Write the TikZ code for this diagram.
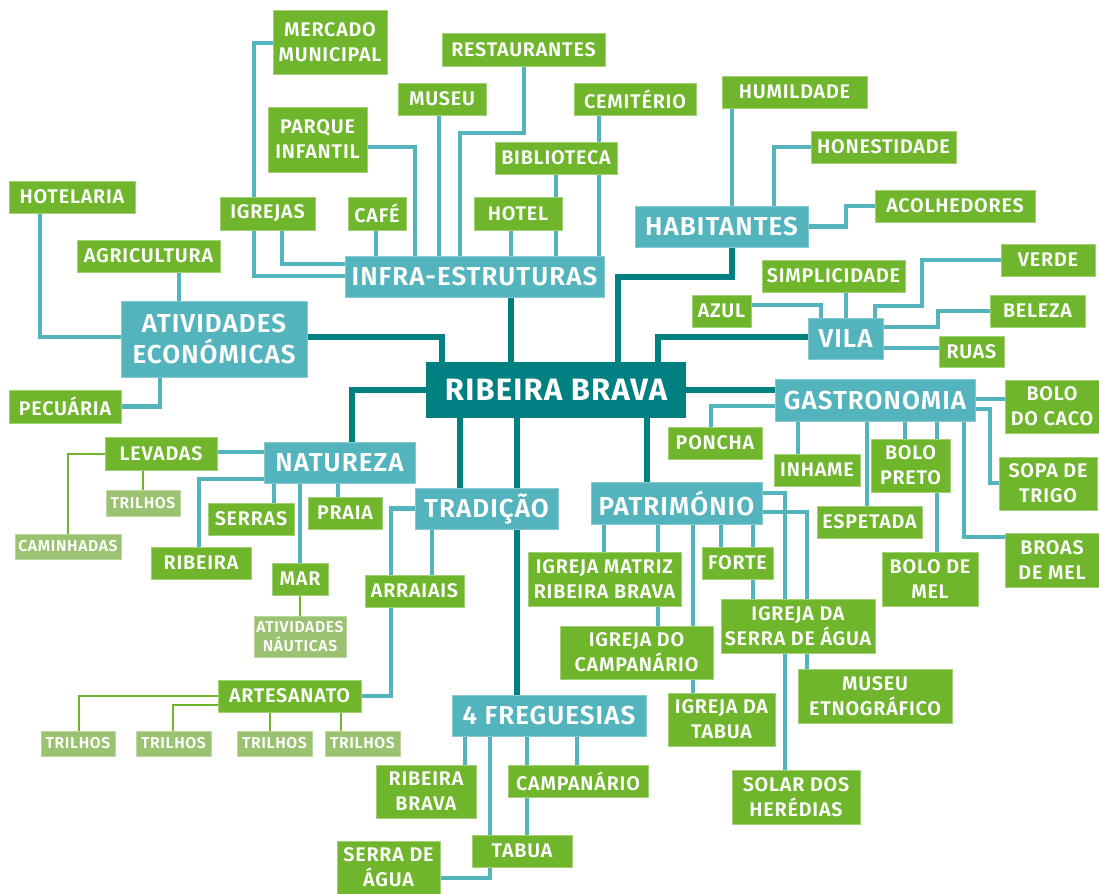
\documentclass[tikz,border=0pt]{standalone}
\usepackage{fontspec}
\setmainfont{Fira Sans}[UprightFont=* SemiBold, BoldFont=* Bold, LetterSpace=4]
\usetikzlibrary{calc}
\definecolor{dk}{HTML}{008080}
\definecolor{lt}{HTML}{54B4BD}
\definecolor{gr}{HTML}{70B62C}
\definecolor{pl}{HTML}{9BC270}
\pgfdeclarelayer{bg}
\pgfsetlayers{bg,main}
\newcommand\bx[7]{\node[#1, minimum width={(#5-#3)*0.75pt}, minimum height={(#6-#4)*0.75pt}] (#2) at ({(#3+#5)/2},{(#4+#6)/2}) {#7};}
\tikzset{
 base/.style={rectangle, inner sep=0pt, text=white, align=center},
 rootn/.style={base, fill=dk, font=\bfseries\fontsize{23.2}{27}\selectfont},
 cat/.style={base, fill=lt, draw=lt!70!white, line width=0.6pt, font=\fontsize{19.5}{23.8}\selectfont},
 grn/.style={base, fill=gr, draw=gr!65!white, line width=0.6pt, font=\fontsize{14.8}{18.75}\selectfont},
 pal/.style={base, fill=pl, draw=pl!65!white, line width=0.6pt, font=\fontsize{11.8}{14}\selectfont},
 dkl/.style={draw=dk, line width=5pt},
 ltl/.style={draw=lt, line width=3.5pt},
 gnl/.style={draw=gr, line width=2.2pt},
}
\begin{document}
\begin{tikzpicture}[x=0.75pt,y=-0.75pt]
\useasboundingbox (0,0) rectangle (1099,893);
% root and categories
\bx{rootn}{root}{426}{362}{686}{418}{RIBEIRA BRAVA}
\bx{cat}{infra}{345}{256}{604}{297}{INFRA-ESTRUTURAS}
\bx{cat}{hab}{635}{206}{808}{247}{HABITANTES}
\bx{cat}{ativ}{121}{301}{307}{377}{ATIVIDADES\\ECONÓMICAS}
\bx{cat}{vila}{808}{318}{883}{359}{VILA}
\bx{cat}{gastro}{775}{379}{975}{421}{GASTRONOMIA}
\bx{cat}{natur}{264}{442}{415}{483}{NATUREZA}
\bx{cat}{trad}{415}{488}{558}{529}{TRADIÇÃO}
\bx{cat}{patr}{591}{482}{762}{524}{PATRIMÓNIO}
\bx{cat}{freg}{452}{695}{646}{736}{4 FREGUESIAS}
% infra-estruturas
\bx{grn}{mercado}{273}{10}{387}{74}{MERCADO\\MUNICIPAL}
\bx{grn}{parque}{268}{107}{367}{172}{PARQUE\\INFANTIL}
\bx{grn}{igrejas}{220}{197}{315}{230}{IGREJAS}
\bx{grn}{cafe}{348}{197}{406}{230}{CAFÉ}
\bx{grn}{rest}{442}{33}{605}{66}{RESTAURANTES}
\bx{grn}{museu}{398}{83}{486}{115}{MUSEU}
\bx{grn}{cemit}{574}{83}{696}{115}{CEMITÉRIO}
\bx{grn}{biblio}{495}{142}{617}{174}{BIBLIOTECA}
\bx{grn}{hotel}{474}{197}{562}{230}{HOTEL}
% habitantes
\bx{grn}{humild}{722}{76}{867}{108}{HUMILDADE}
\bx{grn}{honest}{811}{131}{956}{163}{HONESTIDADE}
\bx{grn}{acolh}{875}{190}{1035}{222}{ACOLHEDORES}
% vila
\bx{grn}{verde}{1001}{244}{1095}{276}{VERDE}
\bx{grn}{simpl}{762}{260}{905}{292}{SIMPLICIDADE}
\bx{grn}{azul}{692}{295}{751}{327}{AZUL}
\bx{grn}{beleza}{990}{295}{1085}{327}{BELEZA}
\bx{grn}{ruas}{939}{336}{1004}{367}{RUAS}
% atividades
\bx{grn}{hotelaria}{9}{181}{135}{213}{HOTELARIA}
\bx{grn}{agric}{77}{240}{220}{272}{AGRICULTURA}
\bx{grn}{pecuaria}{9}{390}{121}{423}{PECUÁRIA}
% natureza
\bx{grn}{levadas}{105}{437}{217}{470}{LEVADAS}
\bx{grn}{serras}{208}{503}{294}{535}{SERRAS}
\bx{grn}{praia}{308}{497}{382}{529}{PRAIA}
\bx{grn}{ribeira}{151}{547}{251}{579}{RIBEIRA}
\bx{grn}{mar}{272}{563}{328}{595}{MAR}
\bx{pal}{trilhosL}{106}{490}{180}{516}{TRILHOS}
\bx{pal}{caminh}{15}{534}{121}{559}{CAMINHADAS}
\bx{pal}{nauticas}{254}{616}{346}{657}{ATIVIDADES\\NÁUTICAS}
% tradicao
\bx{grn}{arraiais}{365}{575}{464}{607}{ARRAIAIS}
\bx{grn}{artes}{218}{680}{361}{712}{ARTESANATO}
\bx{pal}{tA}{41}{731}{115}{756}{TRILHOS}
\bx{pal}{tB}{136}{731}{211}{756}{TRILHOS}
\bx{pal}{tC}{237}{731}{312}{756}{TRILHOS}
\bx{pal}{tD}{325}{731}{400}{756}{TRILHOS}
% gastronomia
\bx{grn}{poncha}{668}{427}{762}{459}{PONCHA}
\bx{grn}{bcaco}{1005}{380}{1099}{433}{BOLO\\DO CACO}
\bx{grn}{sopa}{999}{457}{1097}{510}{SOPA DE\\TRIGO}
\bx{grn}{broas}{1005}{533}{1099}{587}{BROAS\\DE MEL}
\bx{grn}{inhame}{774}{454}{860}{486}{INHAME}
\bx{grn}{bpreto}{871}{439}{950}{492}{BOLO\\PRETO}
\bx{grn}{espet}{817}{506}{922}{538}{ESPETADA}
\bx{grn}{bmel}{882}{552}{978}{606}{BOLO DE\\MEL}
% patrimonio
\bx{grn}{imatriz}{528}{552}{681}{606}{IGREJA MATRIZ\\RIBEIRA BRAVA}
\bx{grn}{forte}{702}{547}{773}{579}{FORTE}
\bx{grn}{icamp}{560}{626}{713}{679}{IGREJA DO\\CAMPANÁRIO}
\bx{grn}{iserra}{721}{599}{875}{653}{IGREJA DA\\SERRA DE ÁGUA}
\bx{grn}{itabua}{668}{693}{775}{746}{IGREJA DA\\TABUA}
\bx{grn}{museuet}{798}{669}{952}{723}{MUSEU\\ETNOGRÁFICO}
\bx{grn}{solar}{732}{770}{860}{824}{SOLAR DOS\\HERÉDIAS}
% freguesias
\bx{grn}{frb}{376}{765}{476}{818}{RIBEIRA\\BRAVA}
\bx{grn}{fcamp}{508}{765}{648}{797}{CAMPANÁRIO}
\bx{grn}{ftabua}{472}{835}{572}{867}{TABUA}
\bx{grn}{fserra}{337}{841}{440}{894}{SERRA DE\\ÁGUA}

\begin{pgfonlayer}{bg}
\fill[white] (0,0) rectangle (1099,893);
% dark connectors from root
\draw[dkl] (511,0 |- infra.south) -- (511,0 |- root.north);
\draw[dkl] (ativ.east |- 0,337) -| (442,0 |- root.north);
\draw[dkl] (732,0 |- hab.south) |- (618,277) -- (618,0 |- root.north);
\draw[dkl] (vila.west |- 0,337) -| (658,0 |- root.north);
\draw[dkl] (root.east |- 0,390) -- (gastro.west |- 0,390);
\draw[dkl] (root.west |- 0,390) -| (352,0 |- natur.north);
\draw[dkl] (460,0 |- root.south) -- (460,0 |- trad.north);
\draw[dkl] (517,0 |- root.south) -- (517,0 |- freg.north);
\draw[dkl] (647,0 |- root.south) -- (647,0 |- patr.north);
% infra
\draw[ltl] (mercado.west |- 0,43) -| (254,276) -- (infra.west |- 0,276);
\draw[ltl] (282,0 |- igrejas.south) |- (infra.west |- 0,264);
\draw[ltl] (376,0 |- cafe.south) -- (376,0 |- infra.north);
\draw[ltl] (parque.east |- 0,147) -| (415,0 |- infra.north);
\draw[ltl] (439,0 |- museu.south) -- (439,0 |- infra.north);
\draw[ltl] (524,0 |- rest.south) |- (460,133) -- (460,0 |- infra.north);
\draw[ltl] (511,0 |- hotel.south) -- (511,0 |- infra.north);
\draw[ltl] (556,0 |- biblio.south) -- (556,0 |- infra.north);
\draw[ltl] (599,0 |- cemit.south) -- (599,0 |- infra.north);
% habitantes
\draw[ltl] (732,0 |- humild.south) -- (732,0 |- hab.north);
\draw[ltl] (honest.west) -| (774,0 |- hab.north);
\draw[ltl] (hab.east) -| (846,206) -- (acolh.west);
% vila
\draw[ltl] (azul.east |- 0,305) -| (821,0 |- vila.north);
\draw[ltl] (846,0 |- simpl.south) -- (846,0 |- vila.north);
\draw[ltl] (875,0 |- vila.north) |- (922,306) |- (verde.west);
\draw[ltl] (vila.east |- 0,327) -| (938,311) -- (beleza.west);
\draw[ltl] (vila.east |- 0,348) -- (ruas.west |- 0,348);
% atividades
\draw[ltl] (179,0 |- agric.south) -- (179,0 |- ativ.north);
\draw[ltl] (40,0 |- hotelaria.south) |- (ativ.west |- 0,337);
\draw[ltl] (pecuaria.east) -| (160,0 |- ativ.south);
% natureza
\draw[ltl] (levadas.east |- 0,452) -- (natur.west |- 0,452);
\draw[ltl] (natur.west |- 0,479) -| (199,0 |- ribeira.north);
\draw[ltl] (274,0 |- natur.south) -- (274,0 |- serras.north);
\draw[ltl] (300,0 |- natur.south) -- (300,0 |- mar.north);
\draw[ltl] (338,0 |- natur.south) -- (338,0 |- praia.north);
\draw[gnl] (levadas.west |- 0,454) -| (68,0 |- caminh.north);
\draw[gnl] (143,0 |- levadas.south) -- (143,0 |- trilhosL.north);
\draw[gnl] (300,0 |- mar.south) -- (300,0 |- nauticas.north);
% tradicao
\draw[ltl] (trad.west) -| (391,0 |- arraiais.north);
\draw[ltl] (432,0 |- trad.south) -- (432,0 |- arraiais.north);
\draw[ltl] (391,0 |- arraiais.south) |- (artes.east);
\draw[gnl] (artes.west |- 0,696) -| (79,0 |- tA.north);
\draw[gnl] (artes.west |- 0,705) -| (173,0 |- tB.north);
\draw[gnl] (270,0 |- artes.south) -- (270,0 |- tC.north);
\draw[gnl] (341,0 |- artes.south) -- (341,0 |- tD.north);
% gastronomia
\draw[ltl] (gastro.west |- 0,406) -| (711,0 |- poncha.north);
\draw[ltl] (gastro.east |- 0,399) -- (bcaco.west |- 0,399);
\draw[ltl] (gastro.east |- 0,409) -| (990,483) -- (sopa.west |- 0,483);
\draw[ltl] (964,0 |- gastro.south) |- (broas.west |- 0,537);
\draw[ltl] (798,0 |- gastro.south) -- (798,0 |- inhame.north);
\draw[ltl] (867,0 |- gastro.south) -- (867,0 |- espet.north);
\draw[ltl] (905,0 |- gastro.south) -- (905,0 |- bpreto.north);
\draw[ltl] (937,0 |- gastro.south) -- (937,0 |- bmel.north);
% patrimonio
\draw[ltl] (604,0 |- patr.south) -- (604,0 |- imatriz.north);
\draw[ltl] (658,0 |- patr.south) -- (658,0 |- icamp.north);
\draw[ltl] (693,0 |- patr.south) -- (693,0 |- itabua.north);
\draw[ltl] (721,0 |- patr.south) -- (721,0 |- forte.north);
\draw[ltl] (753,0 |- patr.south) -- (753,0 |- iserra.north);
\draw[ltl] (patr.east |- 0,493) -| (785,0 |- solar.north);
\draw[ltl] (patr.east |- 0,512) -| (807,0 |- museuet.north);
% freguesias
\draw[ltl] (465,0 |- freg.south) -- (465,0 |- frb.north);
\draw[ltl] (490,0 |- freg.south) |- (fserra.east |- 0,878);
\draw[ltl] (527,0 |- freg.south) -- (527,0 |- ftabua.north);
\draw[ltl] (577,0 |- freg.south) -- (577,0 |- fcamp.north);
\end{pgfonlayer}
\end{tikzpicture}
\end{document}
